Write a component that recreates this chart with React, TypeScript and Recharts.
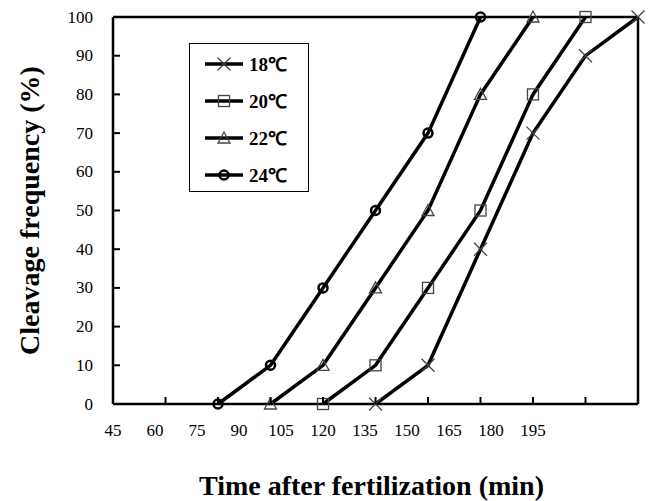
import { LineChart, Line, XAxis, YAxis } from 'recharts';

// sampling points (evenly spaced on the plot), the time labels printed under the axis
const samplePoints = ['p0', 'p1', 'p2', 'p3', 'p4', 'p5', 'p6', 'p7', 'p8', 'p9', 'p10'];
const timeLabels = [45, 60, 75, 90, 105, 120, 135, 150, 165, 180, 195];
const yTicks = [0, 10, 20, 30, 40, 50, 60, 70, 80, 90, 100];

const cleave18 = [null, null, null, null, null, 0, 10, 40, 70, 90, 100];
const cleave20 = [null, null, null, null, 0, 10, 30, 50, 80, 100, null];
const cleave22 = [null, null, null, 0, 10, 30, 50, 80, 100, null, null];
const cleave24 = [null, null, 0, 10, 30, 50, 70, 100, null, null, null];

const data = samplePoints.map((p, i) => ({
    point: p,
    minute: timeLabels[i],
    t18: cleave18[i],
    t20: cleave20[i],
    t22: cleave22[i],
    t24: cleave24[i],
}));

const FONT = '"Liberation Serif", "Times New Roman", serif';

type Marker = 'cross' | 'square' | 'triangle' | 'circle';

const MarkerShape = ({ cx, cy, kind }: { cx: number; cy: number; kind: Marker }) => {
    if (cx == null || cy == null) return null;
    if (kind === 'cross') {
        return (
            <g stroke="#444" strokeWidth={1.3}>
                <line x1={cx - 6.5} y1={cy - 6.5} x2={cx + 6.5} y2={cy + 6.5} />
                <line x1={cx - 6.5} y1={cy + 6.5} x2={cx + 6.5} y2={cy - 6.5} />
            </g>
        );
    }
    if (kind === 'square') {
        return <rect x={cx - 5.5} y={cy - 5.5} width={11} height={11} fill="none" stroke="#444" strokeWidth={1.3} />;
    }
    if (kind === 'triangle') {
        return (
            <polygon
                points={`${cx},${cy - 6} ${cx - 6},${cy + 5} ${cx + 6},${cy + 5}`}
                fill="none"
                stroke="#444"
                strokeWidth={1.3}
            />
        );
    }
    return <circle cx={cx} cy={cy} r={4.5} fill="none" stroke="#000" strokeWidth={2.5} />;
};

const series: { key: string; name: string; marker: Marker }[] = [
    { key: 't18', name: '18℃', marker: 'cross' },
    { key: 't20', name: '20℃', marker: 'square' },
    { key: 't22', name: '22℃', marker: 'triangle' },
    { key: 't24', name: '24℃', marker: 'circle' },
];

const LegendBox = () => (
    <div
        style={{
            position: 'absolute',
            left: 189,
            top: 43,
            width: 120,
            height: 149,
            border: '1.5px solid #000',
            background: '#fff',
            boxSizing: 'border-box',
            fontFamily: FONT,
        }}
    >
        {series.map((s, i) => (
            <div key={s.key} style={{ position: 'absolute', left: 14, top: 9 + i * 37, height: 22, display: 'flex', alignItems: 'center' }}>
                <svg width={40} height={22}>
                    <line x1={1} y1={11} x2={39} y2={11} stroke="#000" strokeWidth={3.5} />
                    <MarkerShape cx={20} cy={11} kind={s.marker} />
                </svg>
                <span style={{ marginLeft: 5, fontSize: 19, fontWeight: 'bold', color: '#000' }}>{s.name}</span>
            </div>
        ))}
    </div>
);

// tick mark pointing into the plot plus a right-aligned label
const YTick = ({ x, y, payload }: any) => (
    <g>
        <line x1={x} y1={y} x2={x + 7} y2={y} stroke="#000" strokeWidth={2} />
        <text x={x - 20} y={y} textAnchor="end" dominantBaseline="central" fontFamily={FONT} fontSize={17} fill="#000">
            {payload.value}
        </text>
    </g>
);

const XTickMark = ({ x, y }: any) => <line x1={x} y1={y} x2={x} y2={y - 7} stroke="#000" strokeWidth={2} />;

const YTitle = ({ viewBox }: any) => {
    const { y, height } = viewBox;
    const cy = y + height / 2;
    return (
        <text
            x={29}
            y={cy}
            transform={`rotate(-90, 29, ${cy})`}
            textAnchor="middle"
            dominantBaseline="central"
            fontFamily={FONT}
            fontWeight="bold"
            fontSize={28}
            fill="#000"
        >
            Cleavage frequency (%)
        </text>
    );
};

const XTitle = ({ viewBox }: any) => {
    const { x, width, y } = viewBox;
    return (
        <text
            x={x + width / 2 - 4}
            y={y + 90}
            textAnchor="middle"
            fontFamily={FONT}
            fontWeight="bold"
            fontSize={28}
            fill="#000"
        >
            Time after fertilization (min)
        </text>
    );
};

export default function App() {
    const tickStyle = { fill: '#000', fontSize: 17, fontFamily: FONT };
    return (
        <div style={{ position: 'absolute', left: 0, top: 0, width: 649, height: 501, background: '#fff' }}>
            <LineChart width={649} height={501} data={data} margin={{ top: 16, right: 10, left: 0, bottom: 0 }}>
                <XAxis
                    xAxisId="cat"
                    dataKey="point"
                    height={1}
                    interval={0}
                    tickSize={0}
                    tickMargin={0}
                    tickLine={false}
                    tick={<XTickMark />}
                    axisLine={{ stroke: '#000', strokeWidth: 2.5 }}
                />
                <XAxis
                    xAxisId="min"
                    type="number"
                    dataKey="minute"
                    domain={[45, 232.5]}
                    allowDataOverflow
                    ticks={timeLabels}
                    interval={0}
                    height={96}
                    axisLine={false}
                    tickLine={false}
                    tickSize={6}
                    tickMargin={13}
                    tick={tickStyle}
                    label={<XTitle />}
                />
                <XAxis
                    xAxisId="top"
                    dataKey="point"
                    orientation="top"
                    height={1}
                    tick={false}
                    tickLine={false}
                    axisLine={{ stroke: '#000', strokeWidth: 2.5 }}
                />
                <YAxis
                    domain={[0, 100]}
                    ticks={yTicks}
                    interval={0}
                    width={113}
                    tickSize={0}
                    tickMargin={0}
                    tickLine={false}
                    tick={<YTick />}
                    axisLine={{ stroke: '#000', strokeWidth: 2.5 }}
                    label={<YTitle />}
                />
                <YAxis
                    yAxisId="right"
                    orientation="right"
                    domain={[0, 100]}
                    width={1}
                    tick={false}
                    tickLine={false}
                    axisLine={{ stroke: '#000', strokeWidth: 2.5 }}
                />
                {/* carrier for the time-label axis, not drawn */}
                <Line
                    xAxisId="min"
                    dataKey="t24"
                    stroke="none"
                    dot={false}
                    activeDot={false}
                    legendType="none"
                    isAnimationActive={false}
                />
                {series.map((s) => (
                    <Line
                        key={s.key}
                        xAxisId="cat"
                        dataKey={s.key}
                        name={s.name}
                        stroke="#000"
                        strokeWidth={3.5}
                        connectNulls={false}
                        isAnimationActive={false}
                        dot={(props: any) => <MarkerShape key={`${s.key}-${props.index}`} cx={props.cx} cy={props.cy} kind={s.marker} />}
                        activeDot={false}
                    />
                ))}
            </LineChart>
            <LegendBox />
        </div>
    );
}
